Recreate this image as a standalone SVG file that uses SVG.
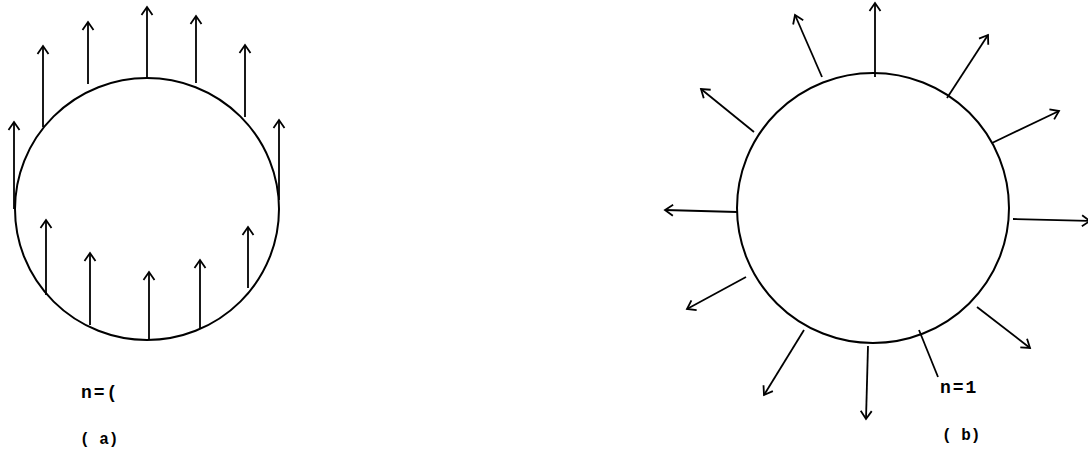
<svg xmlns="http://www.w3.org/2000/svg" width="1088" height="451" viewBox="0 0 1088 451">
<style>
.c{fill:none;stroke:#000;stroke-width:2}
.a{fill:none;stroke:#000;stroke-width:1.8;marker-end:url(#ah)}
.l{fill:none;stroke:#000;stroke-width:1.8}
.t{font-family:"Liberation Mono",monospace;font-size:18px;font-weight:bold;fill:#000;letter-spacing:2px}
.p{font-family:"Liberation Mono",monospace;font-size:16px;font-weight:bold;fill:#000}
</style>
<defs>
<marker id="ah" markerUnits="userSpaceOnUse" markerWidth="20" markerHeight="20" viewBox="-10 -10 20 20" refX="0" refY="0" orient="auto" overflow="visible">
<path d="M-8,-5.5 L0,0 L-8,5.5" fill="none" stroke="#000" stroke-width="1.8"/>
</marker>
</defs>
<rect width="1088" height="451" fill="#fff"/>
<g id="fig-a">
<ellipse id="circle-a" class="c" cx="147" cy="209" rx="132" ry="131"/>
<g id="arrows-a">
<line class="a" x1="14" y1="209" x2="14" y2="122"/>
<line class="a" x1="43" y1="127" x2="43" y2="46"/>
<line class="a" x1="88" y1="84" x2="88" y2="22"/>
<line class="a" x1="147" y1="78" x2="147" y2="7"/>
<line class="a" x1="196" y1="83" x2="196" y2="16"/>
<line class="a" x1="245" y1="117" x2="245" y2="45"/>
<line class="a" x1="279" y1="200" x2="279" y2="120"/>
<line class="a" x1="46" y1="295" x2="46" y2="220"/>
<line class="a" x1="90" y1="325" x2="90" y2="253"/>
<line class="a" x1="149" y1="340" x2="149" y2="272"/>
<line class="a" x1="200" y1="328" x2="200" y2="260"/>
<line class="a" x1="248" y1="288" x2="248" y2="227"/>
</g>
<text class="t" x="81" y="398">n=(</text>
<text class="p" x="80" y="444">( a)</text>
</g>
<g id="fig-b">
<ellipse id="circle-b" class="c" cx="873" cy="208" rx="136" ry="135"/>
<g id="arrows-b">
<line class="a" x1="875" y1="77" x2="875" y2="3"/>
<line class="a" x1="822" y1="77" x2="795" y2="15"/>
<line class="a" x1="754" y1="132" x2="701" y2="89"/>
<line class="a" x1="737" y1="212" x2="665" y2="210"/>
<line class="a" x1="947" y1="98" x2="988" y2="35"/>
<line class="a" x1="992" y1="143" x2="1059" y2="111"/>
<line class="a" x1="1013" y1="219" x2="1090" y2="221"/>
<line class="a" x1="746" y1="277" x2="687" y2="309"/>
<line class="a" x1="804" y1="330" x2="764" y2="395"/>
<line class="a" x1="868" y1="346" x2="866" y2="419"/>
<line class="a" x1="977" y1="307" x2="1030" y2="348"/>
<line class="l" x1="919" y1="330" x2="938" y2="377"/>
</g>
<text class="t" x="940" y="393">n=1</text>
<text class="p" x="942" y="440">( b)</text>
</g>
</svg>
